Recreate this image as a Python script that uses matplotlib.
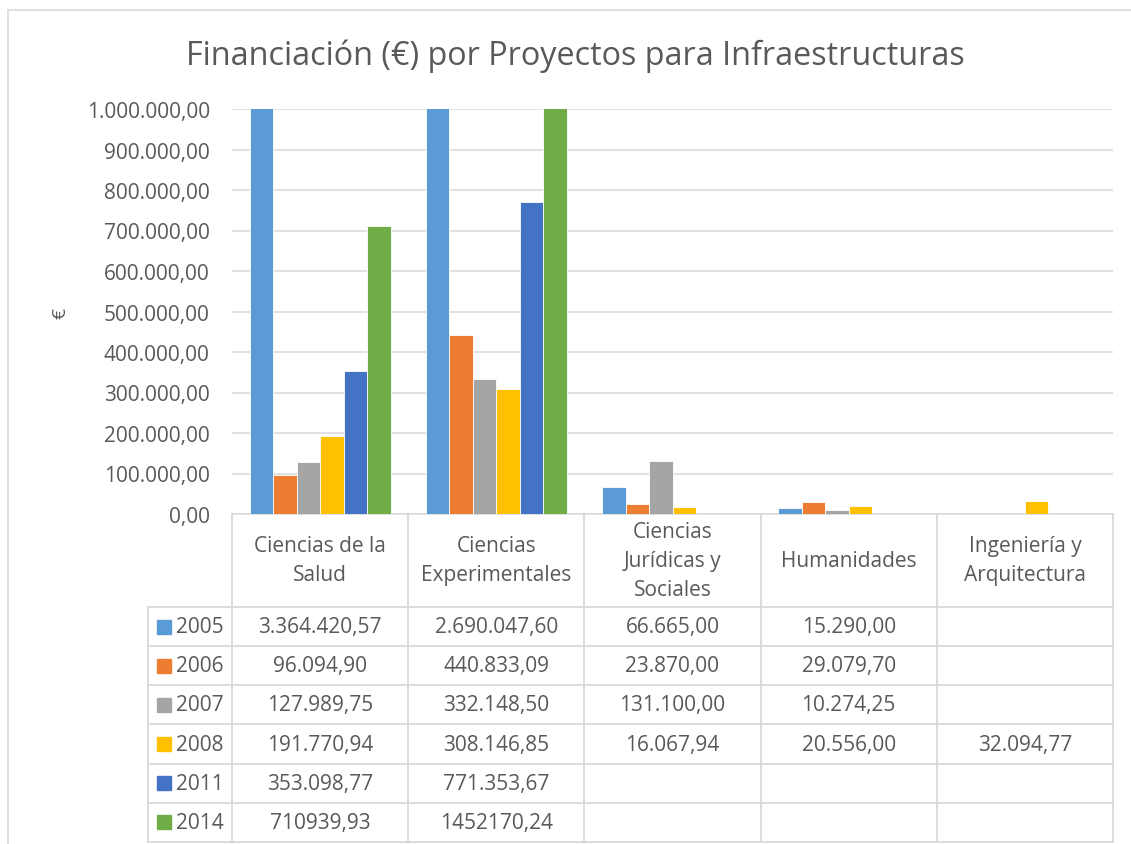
import numpy as np
import matplotlib
matplotlib.use('Agg')
import matplotlib.pyplot as plt
from matplotlib.ticker import FuncFormatter, MultipleLocator
from matplotlib.lines import Line2D

plt.rcParams['font.family'] = ['Open Sans', 'DejaVu Sans']

categories = ['Ciencias de la\nSalud', 'Ciencias\nExperimentales',
              'Ciencias\nJurídicas y\nSociales', 'Humanidades',
              'Ingeniería y\nArquitectura']
years = ['2005', '2006', '2007', '2008', '2011', '2014']
v2005 = [3364420.57, 2690047.60, 66665.00, 15290.00, np.nan]
v2006 = [96094.90, 440833.09, 23870.00, 29079.70, np.nan]
v2007 = [127989.75, 332148.50, 131100.00, 10274.25, np.nan]
v2008 = [191770.94, 308146.85, 16067.94, 20556.00, 32094.77]
v2011 = [353098.77, 771353.67, np.nan, np.nan, np.nan]
v2014 = [710939.93, 1452170.24, np.nan, np.nan, np.nan]
series = [v2005, v2006, v2007, v2008, v2011, v2014]
grouped = [True, True, True, True, True, False]  # 2014 row was typed without separators
colors = ['#5B9BD5', '#ED7D31', '#A5A5A5', '#FFC000', '#4472C4', '#70AD47']

TXT = '#595959'
GRID = '#d9d9d9'


def fmt_es(v, group=True):
    s = f"{v:,.2f}" if group else f"{v:.2f}"
    return s.replace(',', 'X').replace('.', ',').replace('X', '.')


W, H = 1131, 845
fig = plt.figure(figsize=(W / 100, H / 100), dpi=100)

# chart frame (only top and left edges visible)
fig.add_artist(Line2D([7.5 / W, 7.5 / W], [0, 1 - 11 / H], color=GRID, lw=1.2))
fig.add_artist(Line2D([7.5 / W, 1], [1 - 11 / H, 1 - 11 / H], color=GRID, lw=1.2))

ax = fig.add_axes([232 / W, 1 - 515 / H, (1113 - 232) / W, (515 - 110) / H])
x = np.arange(len(categories))
n = len(series)
bw = 0.8 / n
for i, (vals, c) in enumerate(zip(series, colors)):
    ax.bar(x - 0.4 + bw * (i + 0.5), np.nan_to_num(vals), width=bw, color=c,
           edgecolor='white', linewidth=0.6, zorder=3)

ax.set_xlim(-0.5, len(categories) - 0.5)
ax.set_ylim(0, 1000000)
ax.yaxis.set_major_locator(MultipleLocator(100000))
ax.yaxis.set_major_formatter(FuncFormatter(lambda v, p: fmt_es(v)))
ax.grid(axis='y', color=GRID, lw=1.1, zorder=0)
ax.set_xticks([])
ax.tick_params(axis='y', length=0, pad=16, labelsize=15, labelcolor=TXT)
for s in ['top', 'right', 'left']:
    ax.spines[s].set_visible(False)
ax.spines['bottom'].set_color(GRID)
ax.spines['bottom'].set_linewidth(1.1)

fig.text(575 / W, 1 - 56 / H, 'Financiación (€) por Proyectos para Infraestructuras',
         ha='center', va='center', fontsize=23.3, color=TXT)
fig.text(60 / W, 1 - 313 / H, '€', rotation=90, ha='center', va='center',
         fontsize=14, color=TXT)

# data table under the chart
hdr = 93 / 39.2
unit = 176.2
x0 = -0.5 - 84 / unit
tab = fig.add_axes([148 / W, 2 / H, (1113 - 148) / W, (843 - 515) / H])
tab.set_xlim(x0, len(categories) - 0.5)
tab.set_ylim(hdr + n, 0)
tab.axis('off')

lk = dict(color=GRID, lw=1.3, clip_on=False)
for k in range(len(categories) + 1):
    tab.plot([k - 0.5, k - 0.5], [0, hdr + n], **lk)
tab.plot([x0, x0], [hdr, hdr + n], **lk)
for j in range(n + 1):
    tab.plot([x0, len(categories) - 0.5], [hdr + j, hdr + j], **lk)

for i, cat in enumerate(categories):
    tab.text(i, hdr / 2, cat, ha='center', va='center', fontsize=15,
             color=TXT, linespacing=1.5)

for j, (yr, vals, c, g) in enumerate(zip(years, series, colors, grouped)):
    yc = hdr + j + 0.5
    tab.plot([x0 + 16 / unit], [yc], marker='s', markersize=10, color=c, clip_on=False)
    tab.text(x0 + 28 / unit, yc, yr, ha='left', va='center', fontsize=15, color=TXT)
    for i, v in enumerate(vals):
        if not np.isnan(v):
            tab.text(i, yc, fmt_es(v, g), ha='center', va='center',
                     fontsize=15, color=TXT)

fig.savefig('out.png', dpi=100)
